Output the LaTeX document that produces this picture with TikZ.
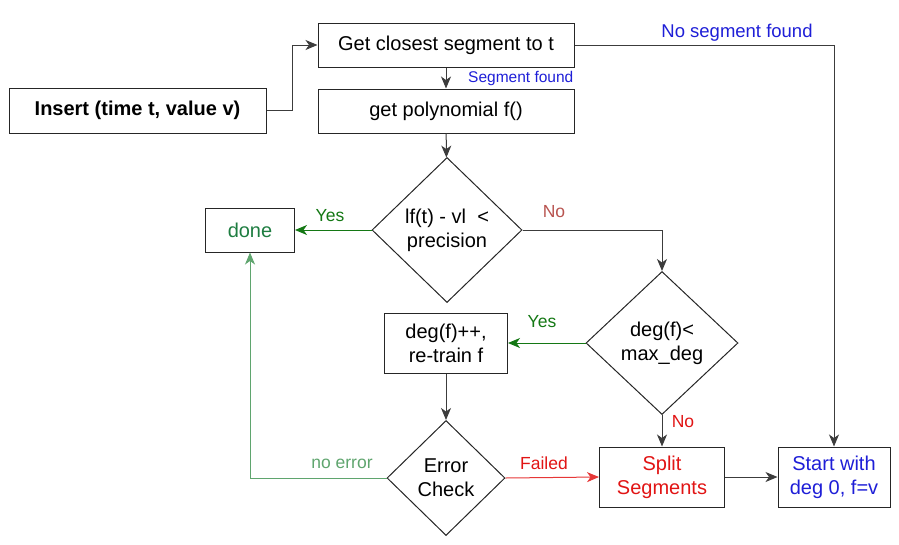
\documentclass[tikz,border=0pt]{standalone}
\usepackage{fontspec}
\setmainfont{Liberation Sans}
\usetikzlibrary{shapes.geometric,arrows.meta}
\definecolor{segblue}{RGB}{30,30,215}
\definecolor{yesgreen}{RGB}{20,120,20}
\definecolor{donegreen}{RGB}{30,125,65}
\definecolor{okgreen}{RGB}{95,165,110}
\definecolor{nored}{RGB}{184,84,80}
\definecolor{failred}{RGB}{225,20,20}
\definecolor{linegray}{RGB}{60,60,60}
\tikzset{
  box/.style={draw=black!85, line width=1pt, align=center, inner sep=2pt},
  decide/.style={draw=black!85, line width=1pt, diamond, align=center, inner sep=0pt},
  arr/.style={draw=linegray, line width=1pt, -{Stealth[length=12pt,width=10pt,inset=3.5pt]}},
  lbl/.style={inner sep=0pt, font=\fontsize{17.5}{21}\selectfont}
}
\begin{document}
\begin{tikzpicture}[x=1pt, y=-1pt, font=\fontsize{20}{24}\selectfont]
\useasboundingbox (0,0) rectangle (899,544);
\node[box, minimum width=257, minimum height=45, font=\fontsize{20}{24}\selectfont\bfseries] (ins) at (137.5,110.5){Insert (time t, value v)};
\node[box, minimum width=256, minimum height=44] (get) at (446,45){Get closest segment to t};
\node[box, minimum width=256, minimum height=44] (poly) at (446,111){get polynomial f()};
\node[decide, minimum width=150, minimum height=145] (prec) at (447,230){lf(t) - vl~~<\\precision};
\node[box, minimum width=89, minimum height=44, text=donegreen] (done) at (250,230){done};
\node[decide, minimum width=152, minimum height=143] (maxdeg) at (662,343){deg(f)<\\max\_deg};
\node[box, minimum width=123, minimum height=60] (train) at (446,343){deg(f)++,\\re-train f};
\node[decide, minimum width=118, minimum height=115] (check) at (446,478){Error\\Check};
\node[box, minimum width=125, minimum height=60, text=failred] (split) at (662,477){Split\\Segments};
\node[box, minimum width=112, minimum height=60, text=segblue] (start) at (834,477){Start with\\deg 0, f=v};
\draw[arr] (ins.east) -- ++(26,0) |- (get.west);
\draw[arr] (get) -- (poly);
\node[lbl, anchor=west, text=segblue, font=\fontsize{15.5}{18}\selectfont] (segfound) at (468,78){Segment found};
\draw[arr] (get.east) -| (start.north);
\node[lbl, text=segblue, font=\fontsize{18.5}{21}\selectfont] (noseg) at (737,33){No segment found};
\draw[arr] (poly) -- (prec);
\draw[arr, draw=yesgreen] (prec.west) -- (done.east);
\node[lbl, text=yesgreen] (yes1) at (330,216){Yes};
\draw[arr] (prec.east) -| (maxdeg.north);
\node[lbl, text=nored] (no1) at (554,212){No};
\draw[arr, draw=yesgreen] (maxdeg.west) -- (train.east);
\node[lbl, text=yesgreen] (yes2) at (542,322){Yes};
\draw[arr] (maxdeg.south) -- (split.north);
\node[lbl, text=failred] (no2) at (683,422){No};
\draw[arr] (train) -- (check);
\draw[arr, draw=failred!85] (check.east) -- (split.west);
\node[lbl, text=failred] (failed) at (544,463){Failed};
\draw[arr, draw=okgreen] (check.west) -| (done.south);
\node[lbl, text=okgreen] (noerr) at (342,464){no error};
\draw[arr] (split) -- (start);
\end{tikzpicture}
\end{document}
